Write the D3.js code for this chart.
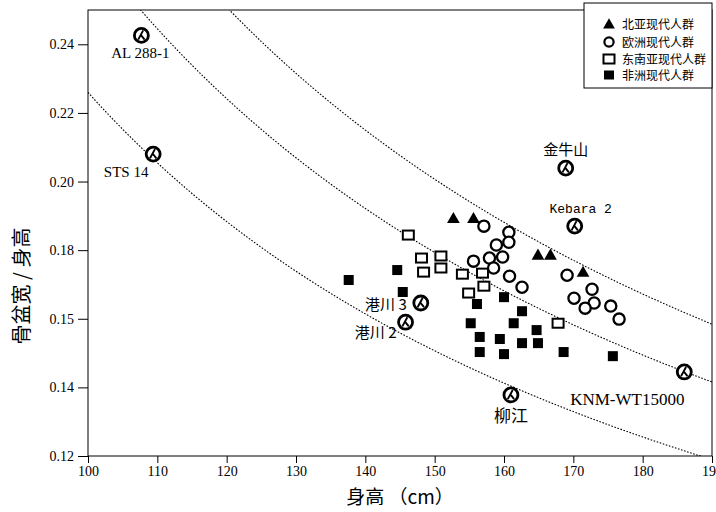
<!DOCTYPE html>
<html>
<head>
<meta charset="utf-8">
<script src="https://cdn.jsdelivr.net/npm/d3@7"></script>
<style>
body{margin:0;background:#fff}
</style>
</head>
<body>
<svg width="716" height="512"></svg>
<script>
// 北亚现代人群 [stature, ratio]
var northAsia = [[152.7,0.1893],[155.6,0.1893],[164.9,0.1786],[166.7,0.1786],[171.4,0.1736]];
// 欧洲现代人群
var europe = [[157.1,0.1870],[160.7,0.1852],[160.7,0.1823],[158.9,0.1815],[159.8,0.1780],[155.6,0.1768],
  [157.9,0.1777],[158.5,0.1748],[160.8,0.1724],[162.6,0.1692],[169.1,0.1727],[172.7,0.1686],
  [170.1,0.1660],[173.0,0.1646],[171.7,0.1631],[175.4,0.1637],[176.6,0.1599]];
// 东南亚现代人群
var seAsia = [[146.2,0.1844],[148.1,0.1777],[150.9,0.1783],[148.4,0.1736],[150.9,0.1748],
  [154.0,0.1730],[156.9,0.1733],[157.1,0.1695],[154.9,0.1675],[167.8,0.1587]];
// 非洲现代人群
var africa = [[137.6,0.1713],[144.6,0.1742],[145.4,0.1678],[156.1,0.1643],[160.0,0.1663],[162.6,0.1622],
  [155.2,0.1587],[161.4,0.1587],[164.7,0.1567],[156.5,0.1547],[159.4,0.1541],[162.6,0.1529],
  [164.9,0.1529],[156.5,0.1503],[160.0,0.1497],[168.6,0.1503],[175.7,0.1491]];
// fossil specimens
var fossilNames = ["AL 288-1","STS 14","金牛山","Kebara 2","港川 3","港川 2","柳江","KNM-WT15000"];
var fossilX = [107.7,109.4,168.9,170.2,148.0,145.8,161.0,186.0];
var fossilY = [0.2426,0.2080,0.2039,0.1870,0.1646,0.1590,0.1378,0.1445];
// constant pelvic breadth lines (ratio = k / stature)
var curveK = [22.6, 26.9, 30.1];

var xTicks = [100,110,120,130,140,150,160,170,180,190];
var yTicks = [0.12,0.14,0.16,0.18,0.20,0.22,0.24];
var yTickLabels = ["0.12","0.14","0.15","0.18","0.20","0.22","0.24"];
var legendNames = ["北亚现代人群","欧洲现代人群","东南亚现代人群","非洲现代人群"];

var svg = d3.select("svg");
var serif = "'Liberation Serif','Times New Roman',serif";
var cjk = "'Noto Sans CJK SC',sans-serif";

var x = d3.scaleLinear().domain([100,190]).range([88,712]);
var y = d3.scaleLinear().domain([0.12,0.25]).range([456,10]);

svg.append("clipPath").attr("id","clip")
  .append("rect").attr("x",88).attr("y",10).attr("width",624).attr("height",446);

// curves
var line = d3.line().x(d => x(d[0])).y(d => y(d[1]));
curveK.forEach(function(k){
  var pts = d3.range(100,190.01,0.5).map(s => [s, k/s]);
  svg.append("path").attr("d", line(pts)).attr("clip-path","url(#clip)")
    .attr("fill","none").attr("stroke","#000").attr("stroke-width",1.1)
    .attr("stroke-dasharray","1.6,1.6");
});

// axes
var xa = svg.append("g").attr("transform","translate(0,456)")
  .call(d3.axisBottom(x).tickValues(xTicks).tickSize(7).tickPadding(3));
var ya = svg.append("g").attr("transform","translate(88,0)")
  .call(d3.axisLeft(y).tickValues(yTicks).tickSize(10).tickPadding(4)
    .tickFormat((d,i) => yTickLabels[i]));
[xa,ya].forEach(function(a){
  a.select(".domain").remove();
  a.selectAll("text").attr("font-family",serif).attr("font-size",14).attr("fill","#000");
  a.selectAll("line").attr("stroke","#000");
});
svg.append("rect").attr("x",88).attr("y",10).attr("width",624).attr("height",446)
  .attr("fill","none").attr("stroke","#000").attr("stroke-width",1);

// markers
svg.append("g").selectAll("rect").data(africa).enter().append("rect")
  .attr("x",d => x(d[0])-5).attr("y",d => y(d[1])-5).attr("width",10).attr("height",10)
  .attr("fill","#000");
svg.append("g").selectAll("rect").data(seAsia).enter().append("rect")
  .attr("x",d => x(d[0])-5.5).attr("y",d => y(d[1])-4.5).attr("width",11).attr("height",9)
  .attr("fill","#fff").attr("stroke","#000").attr("stroke-width",2);
svg.append("g").selectAll("circle").data(europe).enter().append("circle")
  .attr("cx",d => x(d[0])).attr("cy",d => y(d[1])).attr("r",5.6)
  .attr("fill","#fff").attr("stroke","#000").attr("stroke-width",2.3);
var tri = d3.symbol(d3.symbolTriangle, 70);
svg.append("g").selectAll("path").data(northAsia).enter().append("path")
  .attr("d",tri).attr("transform",d => "translate(" + x(d[0]) + "," + (y(d[1])+1) + ")")
  .attr("fill","#000");

// fossils
function fossil(g){
  g.append("circle").attr("r",7).attr("fill","#fff").attr("stroke","#000").attr("stroke-width",2.8);
  g.append("path").attr("d","M1.8,-5 L-3.2,4.2 M-0.6,-0.6 L3.2,4.2")
    .attr("fill","none").attr("stroke","#000").attr("stroke-width",1.9);
}
fossilX.forEach(function(fx,i){
  var g = svg.append("g").attr("transform","translate(" + x(fx) + "," + y(fossilY[i]) + ")");
  fossil(g);
});

var labelPos = [
  {dx:-1,dy:23,anchor:"middle",font:serif,size:15},
  {dx:-27,dy:23,anchor:"middle",font:serif,size:15},
  {dx:0,dy:-13,anchor:"middle",font:cjk,size:15},
  {dx:6,dy:-13,anchor:"middle",font:"'Liberation Mono',monospace",size:13},
  {dx:-14,dy:7,anchor:"end",font:cjk,size:15},
  {dx:-9,dy:16,anchor:"end",font:cjk,size:15},
  {dx:0,dy:27,anchor:"middle",font:cjk,size:17},
  {dx:-57,dy:33,anchor:"middle",font:serif,size:17}
];
fossilNames.forEach(function(n,i){
  var p = labelPos[i];
  svg.append("text").attr("x",x(fossilX[i])+p.dx).attr("y",y(fossilY[i])+p.dy)
    .attr("text-anchor",p.anchor).attr("font-family",p.font).attr("font-size",p.size)
    .attr("fill","#000").text(n);
});

// legend
var lg = svg.append("g");
lg.append("rect").attr("x",584).attr("y",3).attr("width",128).attr("height",85)
  .attr("fill","#fff").attr("stroke","#000").attr("stroke-width",1);
var ly = [24,42,59,75];
lg.append("path").attr("d",d3.symbol(d3.symbolTriangle,60))
  .attr("transform","translate(609," + (ly[0]+1) + ")").attr("fill","#000");
lg.append("circle").attr("cx",609).attr("cy",ly[1]).attr("r",4.6)
  .attr("fill","#fff").attr("stroke","#000").attr("stroke-width",2.2);
lg.append("rect").attr("x",603.5).attr("y",ly[2]-4.5).attr("width",11).attr("height",9)
  .attr("fill","#fff").attr("stroke","#000").attr("stroke-width",2);
lg.append("rect").attr("x",604).attr("y",ly[3]-4.5).attr("width",10).attr("height",9)
  .attr("fill","#000");
legendNames.forEach(function(n,i){
  lg.append("text").attr("x",622).attr("y",ly[i]+4.5).attr("font-family",cjk)
    .attr("font-size",12).attr("fill","#000").text(n);
});

// axis titles
svg.append("text").attr("x",400).attr("y",504).attr("text-anchor","middle")
  .attr("font-family",cjk).attr("font-size",19).attr("fill","#000").text("身高 （cm）");
svg.append("text").attr("transform","translate(29,286) rotate(-90)").attr("text-anchor","middle")
  .attr("font-family",cjk).attr("font-size",20).attr("fill","#000").text("骨盆宽 / 身高");
</script>
</body>
</html>
